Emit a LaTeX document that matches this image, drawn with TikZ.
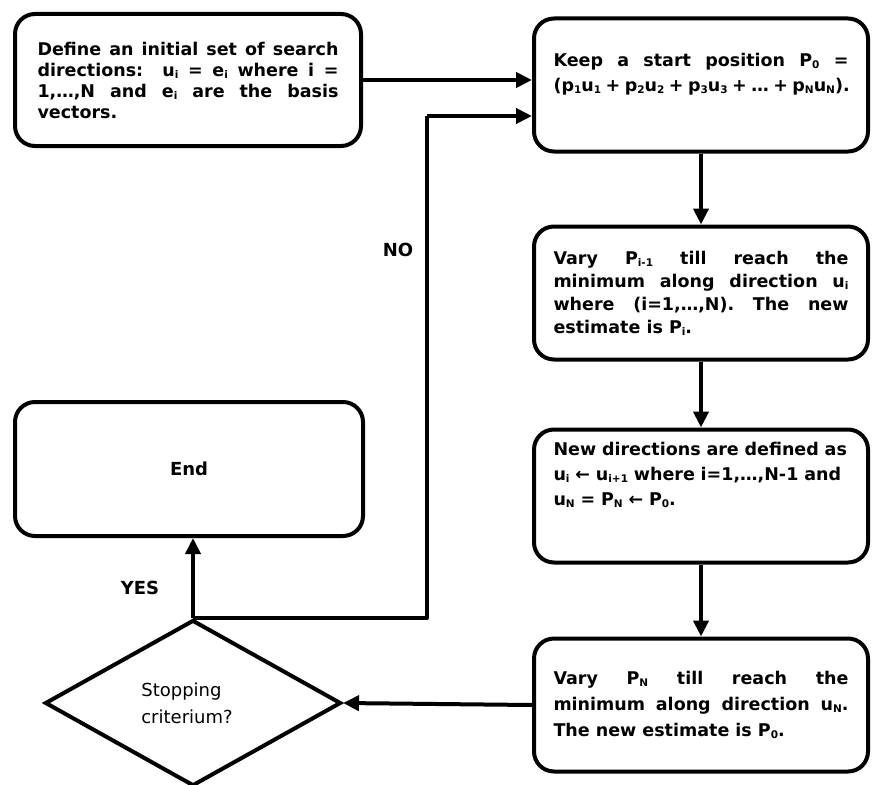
\documentclass[tikz,border=0pt]{standalone}
\usepackage{fontspec}
\setmainfont{DejaVu Sans}
\usepackage{tikz}
\usetikzlibrary{shapes.geometric}
\usetikzlibrary{positioning}
\usetikzlibrary{arrows.meta}
\hyphenpenalty=10000
\exhyphenpenalty=10000
\tolerance=9999
\emergencystretch=20pt
\newcommand{\sub}[1]{\raisebox{-2pt}{\fontsize{10.5}{10}\selectfont #1}}

\begin{document}
\begin{tikzpicture}[x=1pt, y=-1pt,
                stepbox/.style={draw, line width=4pt, rounded corners=20pt, minimum height=133pt,
                        text width=295pt, inner xsep=19.5pt, inner ysep=0pt, align=justify,
                        font=\bfseries\fontsize{17.5}{21}\selectfont},
                flow/.style={line width=4pt, line join=round, -{Triangle[length=16pt, width=15pt]}},
                plainline/.style={line width=4pt, line join=round},
                answer/.style={font=\bfseries\fontsize{18}{21}\selectfont}]
                \useasboundingbox (0,0) rectangle (872,784);
                \node[stepbox, text width=301pt, inner xsep=22.5pt, minimum height=132pt] (init) at (188,80)
                        {Define an initial set of search directions:\ \ u\sub{i} = e\sub{i} where i~=\linebreak 1,…,N and e\sub{i} are the basis vectors.};
                \node[stepbox, font=\bfseries\fontsize{17.5}{25}\selectfont] (start) at (701,85)
                        {Keep a start position P\sub{0} = \mbox{\spaceskip=4.5pt (p\sub{1}u\sub{1} + p\sub{2}u\sub{2} + p\sub{3}u\sub{3} + … + p\sub{N}u\sub{N}).}\par\mbox{}};
                \node[stepbox, font=\bfseries\fontsize{17.5}{23}\selectfont] (vary) at (701,293)
                        {Vary P\sub{i-1} till reach the minimum along direction u\sub{i} where (i=1,…,N). The new estimate is P\sub{i}.};
                \node[stepbox, align=left, font=\bfseries\fontsize{17.5}{25}\selectfont] (newdirs) at (701,496)
                        {New directions are defined as u\sub{i} ← u\sub{i+1} where i=1,…,N-1 and u\sub{N} = P\sub{N} ← P\sub{0}.\par\vspace{19pt}\mbox{}};
                \node[stepbox, font=\bfseries\fontsize{17.5}{26}\selectfont] (varyN) at (701,705)
                        {Vary P\sub{N} till reach the\linebreak minimum along direction u\sub{N}.\linebreak The new estimate is P\sub{0}.};
                \node[draw, line width=4pt, rounded corners=20pt, minimum width=348pt, minimum height=134pt,
                        font=\bfseries\fontsize{18}{21}\selectfont] (stop) at (189,469) {End};
                \node[draw, diamond, line width=4pt, minimum width=296pt, minimum height=166pt, inner sep=0pt,
                        align=left, font=\fontsize{18}{27}\selectfont] (check) at (193,703) {Stopping\\criterium?\hspace*{12pt}};
                \coordinate (noturn) at (427,116);
                \draw[flow] (init.east) -- (init.east -| start.west);
                \draw[flow] (start) -- (vary);
                \draw[flow] (vary) -- (newdirs);
                \draw[flow] (newdirs) -- (varyN);
                \draw[flow] (varyN.west) -- (check.east);
                \draw[flow] (check.north) -- (check.north |- stop.south);
                \draw[plainline] (check.north) -| (noturn);
                \draw[flow] (noturn) -- (noturn -| start.west);
                \node[answer] (yes) at (140,588) {YES};
                \node[answer] (no) at (398,250) {NO};
            \end{tikzpicture}
\end{document}
